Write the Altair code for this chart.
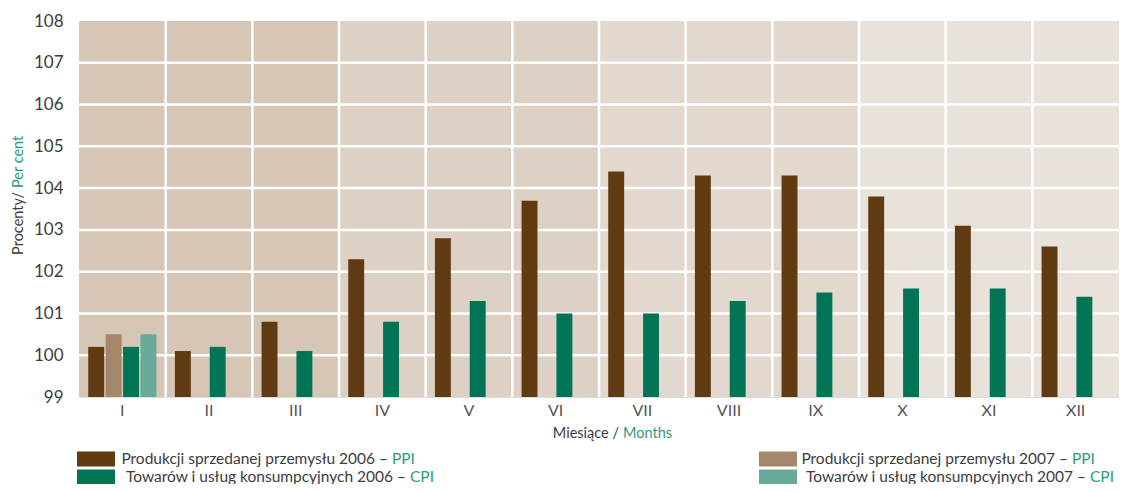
import altair as alt
import pandas as pd

months = ["I", "II", "III", "IV", "V", "VI", "VII", "VIII", "IX", "X", "XI", "XII"]
ppi_2006 = [100.2, 100.1, 100.8, 102.3, 102.8, 103.7, 104.4, 104.3, 104.3, 103.8, 103.1, 102.6]
cpi_2006 = [100.2, 100.2, 100.1, 100.8, 101.3, 101.0, 101.0, 101.3, 101.5, 101.6, 101.6, 101.4]
ppi_2007 = [100.5]
cpi_2007 = [100.5]
series = ["PPI 2006", "PPI 2007", "CPI 2006", "CPI 2007"]
series_colors = ["#603a10", "#a4876a", "#007455", "#6aaa9a"]
quarter_colors = ["#d6c6b6", "#ddd0c4", "#e2d8ce", "#e9e2db"]
y_ticks = [99, 100, 101, 102, 103, 104, 105, 106, 107, 108]

W, H = 1040, 376
GREEN = "#2f9a78"
GRAY = "#3c3c3c"
FONT = "Lato"

rows = []
for i, m in enumerate(months):
    rows.append({"month": m, "series": "PPI 2006", "value": ppi_2006[i], "base": 99})
    rows.append({"month": m, "series": "CPI 2006", "value": cpi_2006[i], "base": 99})
    if i < len(ppi_2007):
        rows.append({"month": m, "series": "PPI 2007", "value": ppi_2007[i], "base": 99})
    if i < len(cpi_2007):
        rows.append({"month": m, "series": "CPI 2007", "value": cpi_2007[i], "base": 99})
bars_df = pd.DataFrame(rows)

bg_df = pd.DataFrame({"month": months, "quarter": [f"Q{i // 3 + 1}" for i in range(12)]})
vlines_df = pd.DataFrame({"month": months[1:]})
hlines_df = pd.DataFrame({"v": y_ticks[1:-1]})

xscale = alt.Scale(domain=months, paddingInner=0, paddingOuter=0)
yscale = alt.Scale(domain=[99, 108], nice=False, zero=False)

bg = alt.Chart(bg_df).mark_rect().encode(
    x=alt.X("month:N", scale=xscale, sort=months,
            axis=alt.Axis(title=None, labelAngle=0, ticks=False, domain=False, grid=False,
                          labelFontSize=16, labelColor="#555555", labelFont=FONT, labelPadding=5)),
    y=alt.value(0), y2=alt.value(H),
    fill=alt.Fill("quarter:N", scale=alt.Scale(domain=["Q1", "Q2", "Q3", "Q4"], range=quarter_colors), legend=None),
)

vlines = alt.Chart(vlines_df).mark_rule(color="white", strokeWidth=2.5).encode(
    x=alt.X("month:N", scale=xscale, sort=months, bandPosition=0),
    y=alt.value(0), y2=alt.value(H),
)

hlines = alt.Chart(hlines_df).mark_rule(color="white", strokeWidth=2.5).encode(
    y=alt.Y("v:Q", scale=yscale),
    x=alt.value(0), x2=alt.value(W),
)

bars = alt.Chart(bars_df).mark_bar().encode(
    x=alt.X("month:N", scale=xscale, sort=months),
    xOffset=alt.XOffset("series:N", sort=series,
                        scale=alt.Scale(domain=series, paddingInner=0.086, paddingOuter=0.53)),
    y=alt.Y("value:Q", scale=yscale,
            axis=alt.Axis(title=None, values=y_ticks, ticks=False, domain=False, grid=False,
                          labelFontSize=17, labelColor=GRAY, labelFont=FONT, labelPadding=16, format="d")),
    y2="base:Q",
    color=alt.Color("series:N", scale=alt.Scale(domain=series, range=series_colors), legend=None),
)


def txt(s, x, y, color, size=14, angle=0, align="left"):
    return alt.Chart(pd.DataFrame({"t": [s]})).mark_text(
        align=align, baseline="middle", font=FONT, fontSize=size, color=color, angle=angle
    ).encode(text="t:N", x=alt.value(x), y=alt.value(y))


def box(x, y, color):
    return alt.Chart(pd.DataFrame({"c": [0]})).mark_rect(color=color).encode(
        x=alt.value(x), x2=alt.value(x + 38), y=alt.value(y - 7.5), y2=alt.value(y + 7.5))


LS = 15.5
# page coords -> plot coords: x - 79, y - 21
texts = [
    txt("Procenty/", -60, 171, GRAY, 14.5, 270, "right"),
    txt("Per cent", -60, 167, GREEN, 14.5, 270, "left"),
    txt("Miesiące /", 540, 413, GRAY, 14.5, 0, "right"),
    txt("Months", 544, 413, GREEN, 14.5),
    box(-2, 438, series_colors[0]),
    txt("Produkcji sprzedanej przemysłu 2006 –", 309, 438, GRAY, LS, 0, "right"),
    txt("PPI", 313, 438, GREEN, LS),
    box(-2, 456, series_colors[2]),
    txt("Towarów i usług konsumpcyjnych 2006 –", 327, 456, GRAY, LS, 0, "right"),
    txt("CPI", 331, 456, GREEN, LS),
    box(680, 438, series_colors[1]),
    txt("Produkcji sprzedanej przemysłu 2007 –", 989, 438, GRAY, LS, 0, "right"),
    txt("PPI", 993, 438, GREEN, LS),
    box(680, 456, series_colors[3]),
    txt("Towarów i usług konsumpcyjnych 2007 –", 1007, 456, GRAY, LS, 0, "right"),
    txt("CPI", 1011, 456, GREEN, LS),
]

chart = alt.layer(bg, vlines, hlines, bars, *texts).properties(
    width=W, height=H,
    autosize=alt.AutoSizeParams(type="none"),
    padding={"left": 71, "top": 13, "right": 0, "bottom": 87},
).configure_view(stroke=None).configure(background="white")

chart.save("out.html", embed_options={"renderer": "svg", "actions": False})
